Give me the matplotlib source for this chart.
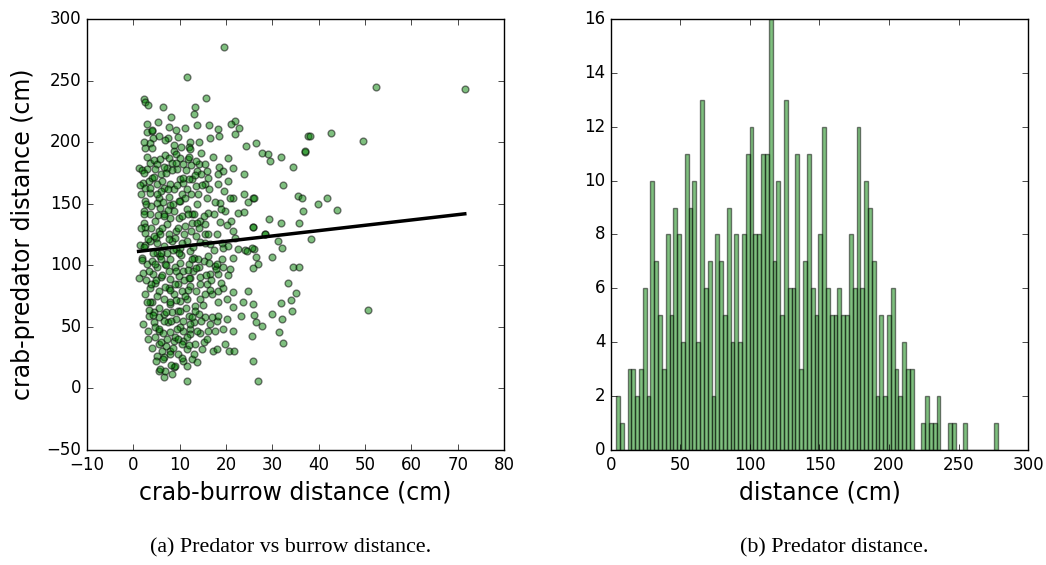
import matplotlib
matplotlib.use('Agg')
import matplotlib.pyplot as plt
import numpy as np

plt.style.use('classic')

# scatter: crab-burrow distance (cm), crab-predator distance (cm)
burrow = [19.66, 11.54, 2.2, 2.56, 3.14, 15.71, 6.37, 13.4, 12.98, 5.3, 22.0, 21.1, 22.75,
          13.84, 16.36, 7.59, 11.04, 18.22, 2.92, 3.93, 4.29, 7.38, 9.68, 16.57, 18.58, 21.9,
          12.12, 11.9, 14.13, 24.26, 26.41, 27.78, 29.0, 29.58, 31.95, 34.53, 37.04, 37.76,
          52.35, 71.52, 42.65, 38.05, 49.47, 37.1, 32.23, 25.9, 35.46, 36.47, 41.8, 39.9,
          36.6, 43.9, 29.2, 31.9, 35.8, 25.8, 28.3, 31.3, 38.3, 32.0, 26.05, 26.5, 29.9,
          26.8, 25.8, 34.5, 35.7, 33.3, 35.0, 34.1, 31.8, 34.3, 50.55, 25.9, 26.0, 26.5,
          27.8, 29.9, 32.1, 31.5, 32.2, 25.5, 25.8, 26.9,
          2.42, 3.5, 12.26, 8.67,
          1.13, 1.85, 2.92, 3.5, 4.36, 5.08, 6.87, 7.59, 8.31, 9.24, 10.1, 10.8, 11.69, 12.4,
          14.13, 15.5, 15.85, 17.15, 18.44, 19.45, 20.52, 21.6, 23.8, 13.7, 9.39, 5.94, 7.23,
          2.06, 2.56, 3.28, 4.0, 5.08, 6.15, 6.66, 7.95, 8.81, 9.96, 10.8, 11.54, 12.62, 13.56,
          14.56, 15.5, 16.43, 18.22, 18.37, 20.52, 21.6, 23.8, 20.9, 5.44, 7.59, 10.46, 13.98,
          15.85, 3.64, 2.42,
          2.2, 3.64, 5.08, 5.8, 6.52, 7.95, 8.67, 9.96, 9.75, 11.54, 12.62, 13.84, 14.42, 16.0,
          17.3, 18.73, 19.73, 22.68, 23.9, 24.83, 25.98, 15.5, 4.72, 7.23, 12.62, 2.35, 11.18, 21.0,
          1.49, 2.56, 2.56, 3.64, 4.93, 5.44, 6.52, 7.59, 8.31, 9.24, 10.1, 11.54, 12.48, 13.7,
          13.56, 14.42, 15.5, 16.57, 18.15, 19.45, 21.6, 20.52, 22.68, 24.1, 25.55, 25.77, 28.3,
          21.96, 5.08, 9.24, 12.26,
          1.85, 2.92, 4.0, 5.08, 5.8, 6.87, 7.95, 9.03, 9.96, 10.8, 11.9, 12.98, 14.06, 15.14,
          16.0, 16.57, 17.65, 19.09, 19.3, 20.88, 21.6, 2.06, 4.22, 5.94, 7.95, 9.75, 12.26,
          14.42, 18.37, 24.5,
          2.56, 3.64, 4.72, 5.44, 6.52, 7.59, 8.67, 9.53, 10.46, 11.54, 12.26, 13.56, 14.42,
          15.5, 15.85, 16.93, 18.37, 19.45, 20.17, 21.46, 24.83, 23.75, 4.0, 7.95, 9.96, 13.34, 21.6,
          3.28, 4.36, 4.36, 5.44, 6.52, 7.38, 8.31, 9.24, 9.53, 10.8, 11.9, 12.98, 14.06, 15.5,
          16.57, 18.0, 18.37, 20.17, 23.2, 3.07, 5.44, 7.95, 10.8, 12.26, 16.21, 17.65, 19.45, 21.6,
          4.72, 5.44, 6.15, 6.66, 7.09, 7.95, 8.67, 9.53, 10.8, 11.54, 12.26, 13.34, 14.77, 15.28,
          17.15, 18.0, 19.8, 20.74, 21.82, 5.08, 10.68, 12.62, 13.84,
          5.44, 6.66, 6.87, 8.67, 9.03, 11.54, 11.54,
          3.0, 4.5, 6.0, 7.0, 8.5, 9.5, 10.5, 11.2, 12.0, 3.8, 5.2, 6.2, 7.3, 8.0, 9.0, 10.2,
          11.0, 12.8, 3.3, 4.8, 5.9, 6.8, 7.6, 8.9, 9.8, 10.9, 11.8, 12.9, 3.6, 4.6, 5.6, 6.3,
          7.1, 8.2, 9.1, 10.1, 11.3, 12.6, 6.0, 7.8, 9.0, 4.2, 2.8, 2.2, 4.0, 5.5, 8.8, 13.5,
          14.8, 15.2, 16.0, 14.0, 16.8, 15.0, 14.3, 17.5, 18.8, 19.5, 20.5, 13.0,
          1.6, 2.4, 3.1, 1.9, 2.7, 3.4, 2.1, 4.1, 4.9, 5.7, 6.4, 7.2, 8.1, 8.6, 9.4, 10.6,
          11.6, 12.3, 13.2, 14.6, 15.8, 17.0, 18.2, 19.0, 17.8, 16.3, 15.4, 14.2, 13.1, 12.4,
          11.4, 10.3, 9.2, 8.1, 6.9, 5.8, 4.7, 3.6, 2.6, 3.9, 4.4, 5.3, 6.4, 7.4, 8.3, 9.3,
          10.7, 11.9, 13.3, 14.7, 16.2, 17.6, 18.9, 20.1, 19.2, 18.1, 16.5, 15.6, 14.4, 13.6,
          12.7, 11.7, 10.6, 9.6, 8.6, 7.7, 6.7, 5.7, 4.6, 3.8, 2.9, 4.3, 5.1, 6.1, 7.0, 8.0,
          9.1, 10.0, 11.1, 12.1, 6.6, 7.9, 9.7, 5.5, 3.2, 8.4, 10.4, 12.0, 13.7, 6.0, 7.4, 9.9,
          11.8, 5.0, 4.0, 6.6, 3.0, 2.4, 1.4, 1.7, 1.2, 2.2]
predator = [277.4, 252.8, 234.7, 232.8, 230.1, 235.5, 228.5, 228.5, 223.0, 216.3, 217.1, 214.9, 211.2,
            213.6, 213.6, 212.5, 211.2, 210.9, 208.5, 209.0, 203.0, 203.6, 204.1, 203.6, 205.0, 206.3,
            199.8, 196.0, 199.8, 196.8, 199.5, 191.4, 190.1, 184.7, 188.2, 179.8, 192.2, 205.0,
            245.0, 243.3, 207.1, 205.0, 200.6, 192.5, 165.5, 154.9, 156.6, 154.9, 154.9, 149.5,
            144.4, 145.2, 137.4, 134.1, 134.1, 131.4, 125.2, 119.8, 121.7, 114.4, 113.1, 106.8, 106.8,
            100.9, 97.4, 98.7, 98.7, 85.8, 77.6, 71.7, 69.3, 63.1, 63.9, 68.5, 59.5, 54.1,
            50.6, 60.3, 56.0, 45.5, 36.8, 42.8, 22.5, 6.3,
            195.5, 199.5, 194.1, 192.8,
            179.3, 177.1, 177.9, 183.3, 185.2, 181.9, 189.5, 186.8, 183.3, 190.6, 187.4, 181.9, 186.0, 181.4,
            182.5, 181.9, 176.6, 187.9, 179.8, 176.6, 187.4, 179.3, 173.9, 176.6, 177.9, 173.9, 178.7,
            167.1, 163.1, 168.5, 171.2, 165.8, 168.5, 163.1, 166.3, 161.7, 169.8, 167.1, 161.7, 169.8, 164.4,
            173.9, 165.8, 161.7, 166.3, 173.9, 168.5, 154.9, 157.6, 154.9, 154.9, 155.5, 157.6, 157.6,
            154.9, 159.0, 152.2,
            144.1, 141.4, 150.9, 146.8, 141.4, 149.0, 144.1, 152.2, 138.7, 145.5, 141.4, 149.5, 136.0, 142.8,
            141.4, 150.9, 144.1, 142.8, 143.6, 151.4, 154.9, 133.3, 136.0, 133.3, 134.7, 134.7, 132.0, 136.0,
            116.6, 116.6, 126.6, 119.8, 122.5, 127.9, 115.8, 125.2, 119.8, 127.9, 114.4, 119.8, 127.9, 134.7,
            123.9, 118.5, 125.2, 117.1, 125.2, 114.4, 127.9, 115.8, 113.1, 112.3, 114.4, 131.2, 125.7,
            122.0, 110.3, 113.1, 111.2,
            106.3, 100.9, 103.6, 98.2, 107.6, 100.9, 104.9, 98.2, 102.2, 95.5, 100.9, 106.3, 98.2, 103.6,
            107.6, 92.8, 99.5, 104.9, 98.2, 96.8, 106.3, 94.1, 92.8, 90.1, 88.7, 91.4, 89.6,
            90.1, 92.8, 111.7,
            76.6, 81.9, 86.0, 79.3, 72.5, 81.9, 76.6, 84.7, 79.3, 72.5, 83.3, 79.3, 72.5,
            76.6, 84.7, 76.6, 79.3, 81.9, 72.5, 77.9, 79.3, 69.8, 69.8, 68.5, 71.2, 67.1, 65.8,
            59.0, 61.7, 53.6, 57.6, 60.3, 53.6, 61.7, 56.3, 63.0, 54.9, 59.0, 53.6, 60.3, 57.6,
            52.3, 54.9, 59.0, 56.3, 59.0, 46.3, 46.8, 45.5, 46.8, 48.2, 46.8, 46.3, 48.2, 46.8,
            41.4, 36.0, 30.6, 25.2, 34.7, 30.6, 38.7, 27.9, 38.7, 32.0, 44.1, 36.0, 32.0, 37.4,
            30.6, 32.0, 36.0, 30.6, 30.6, 26.6, 22.5, 23.9, 21.2,
            14.4, 9.5, 14.4, 17.1, 18.5, 18.5, 5.8,
            188, 172, 160, 175, 150, 165, 140, 155, 170, 130, 118, 130, 110, 138, 122, 108,
            125, 115, 95, 88, 105, 82, 95, 85, 110, 88, 80, 95, 70, 50, 65, 45,
            62, 55, 72, 50, 65, 58, 38, 28, 42, 110, 150, 175, 195, 205, 198, 185,
            165, 140, 125, 105, 88, 68, 45, 112, 135, 160, 92, 28,
            158, 142, 121, 104, 88, 64, 52, 33, 22, 16, 24, 40, 19, 33, 48, 36,
            42, 52, 63, 55, 40, 58, 70, 86, 97, 102, 118, 130, 142, 158,
            177, 196, 210, 220, 202, 186, 178, 163, 131, 148, 124, 141, 151, 162, 177, 183,
            171, 188, 173, 191, 171, 151, 146, 133, 118, 101, 80, 92, 85, 98,
            105, 96, 118, 130, 112, 121, 140, 125, 101, 85, 70, 60, 75, 92, 100, 80,
            95, 63, 75, 90, 55, 70, 40, 48, 40, 12, 25, 35, 47, 110, 145, 152,
            142, 158, 210, 180, 215, 200, 165, 130, 90, 115]

# least-squares fit
fit_slope = 0.433
fit_intercept = 110.8

# histogram of predator distance: 100 bins
dist_min = 3.7
dist_max = 278.2
counts = [2, 1, 0, 3, 3, 2, 3, 6, 2, 10,
          7, 5, 3, 8, 5, 9, 8, 4, 11, 9,
          10, 4, 13, 6, 7, 2, 8, 7, 5, 9,
          4, 8, 4, 8, 11, 12, 8, 8, 11, 11,
          16, 7, 10, 5, 13, 6, 6, 11, 3, 7,
          11, 6, 5, 8, 12, 6, 5, 5, 6, 5,
          5, 8, 6, 12, 6, 10, 9, 7, 2, 5,
          2, 5, 6, 3, 2, 4, 3, 3, 0, 0,
          1, 2, 1, 1, 2, 0, 0, 1, 1, 0,
          0, 1, 0, 0, 0, 0, 0, 0, 0, 1]

fig = plt.figure(figsize=(10.46, 5.65), dpi=100, facecolor='white')
ax1 = fig.add_axes([0.0832, 0.2035, 0.3987, 0.763])
ax2 = fig.add_axes([0.5841, 0.2035, 0.3987, 0.763])

x = np.array(burrow)
ax1.scatter(x, predator, color='g', alpha=0.5, s=24, edgecolors='k', linewidths=1)
xs = np.array([x.min(), x.max()])
ax1.plot(xs, fit_slope * xs + fit_intercept, color='k', lw=2.5)
ax1.set_xlim(-10, 80)
ax1.set_ylim(-50, 300)
ax1.set_xlabel('crab-burrow distance (cm)', fontsize=17)
ax1.set_ylabel('crab-predator distance (cm)', fontsize=17, labelpad=8)

edges = np.linspace(dist_min, dist_max, len(counts) + 1)
ax2.bar(edges[:-1], counts, width=np.diff(edges), align='edge',
        color='g', alpha=0.5, edgecolor='k', linewidth=1)
ax2.set_xlim(0, 300)
ax2.set_ylim(0, 16)
ax2.set_xlabel('distance (cm)', fontsize=17)

for ax in (ax1, ax2):
    ax.tick_params(labelsize=12)

fig.text(291 / 1046, 1 - 548 / 565, '(a) Predator vs burrow distance.',
         family='Liberation Serif', fontsize=15.8, ha='center', va='center')
fig.text(834 / 1046, 1 - 548 / 565, '(b) Predator distance.',
         family='Liberation Serif', fontsize=15.8, ha='center', va='center')

fig.savefig('out.png', dpi=100, facecolor='white')
